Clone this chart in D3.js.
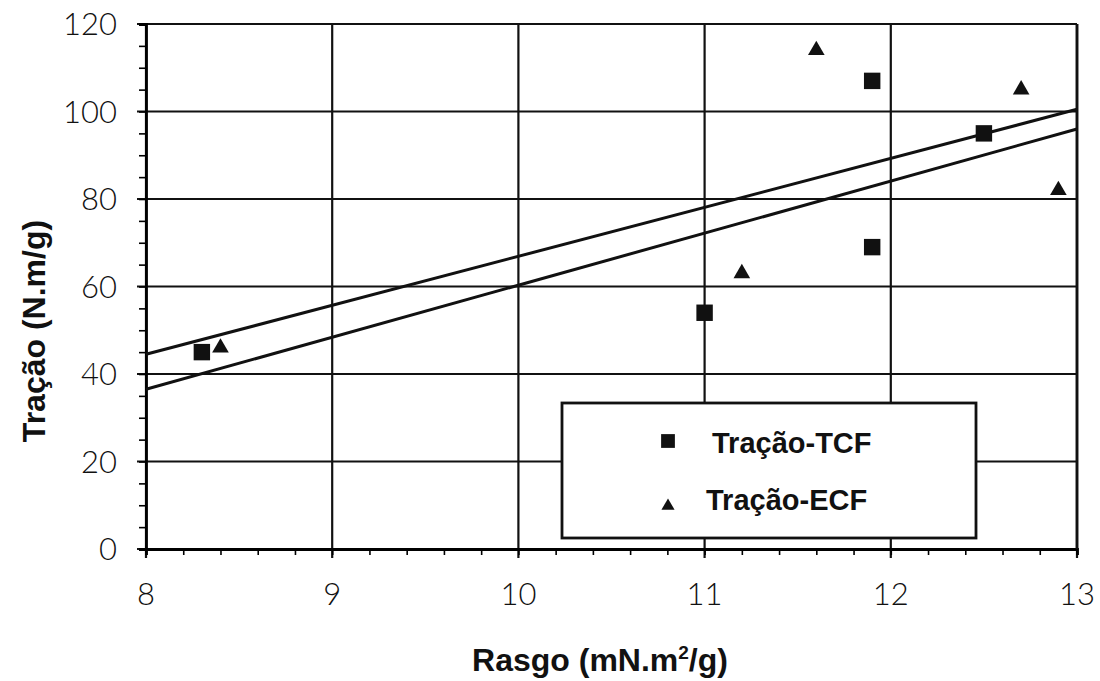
<!DOCTYPE html>
<html>
<head>
<meta charset="utf-8">
<style>
    body { margin: 0; background: #fff; }
    .tick-label { font-family: Lato, "DejaVu Sans", sans-serif; font-weight: 300; font-size: 31px; fill: #111; }
    .title { font-family: "Liberation Sans", Arial, sans-serif; font-weight: bold; font-size: 32px; fill: #111; }
    .legend-text { font-family: "Liberation Sans", Arial, sans-serif; font-weight: bold; font-size: 29px; fill: #111; }
</style>
<script src="https://cdn.jsdelivr.net/npm/d3@7"></script>
</head>
<body>
<script>
// x ticks and y ticks
var xTicks = [8, 9, 10, 11, 12, 13];
var yTicks = [0, 20, 40, 60, 80, 100, 120];

// Tração-TCF (squares)
var tcfX = [8.3, 11.0, 11.9, 11.9, 12.5];
var tcfY = [45, 54, 107, 69, 95];

// Tração-ECF (triangles)
var ecfX = [8.4, 11.2, 11.6, 12.7, 12.9];
var ecfY = [46, 63, 114, 105, 82];

// the two straight fit lines, read at x = 8 and x = 13
var fitX = [8, 13];
var fitUpper = [44.5, 100.5];
var fitLower = [36.5, 96];

var width = 1100, height = 681;
var margin = {left: 146, right: 23, top: 24, bottom: 132};

var svg = d3.select("body").append("svg")
    .attr("width", width)
    .attr("height", height);

var x = d3.scaleLinear().domain([8, 13]).range([margin.left, width - margin.right]);
var y = d3.scaleLinear().domain([0, 120]).range([height - margin.bottom, margin.top]);

//gridlines
svg.append("g").selectAll("line.vg")
    .data(xTicks).enter().append("line")
    .attr("x1", function(d) { return x(d); })
    .attr("x2", function(d) { return x(d); })
    .attr("y1", y(0) + 9)
    .attr("y2", y(120))
    .attr("stroke", "#111").attr("stroke-width", 2.2);

svg.append("g").selectAll("line.hg")
    .data(yTicks).enter().append("line")
    .attr("x1", x(8) - 9)
    .attr("x2", x(13))
    .attr("y1", function(d) { return y(d); })
    .attr("y2", function(d) { return y(d); })
    .attr("stroke", "#111").attr("stroke-width", 2.2);

//minor ticks
var xAxis = d3.axisBottom(x).ticks(25).tickSize(6).tickFormat("");
svg.append("g")
    .attr("transform", "translate(0," + y(0) + ")")
    .call(xAxis)
    .call(function(g) {
        g.select(".domain").attr("stroke-width", 2.8);
        g.selectAll(".tick line").attr("stroke-width", 1.6);
    });

var yAxis = d3.axisLeft(y).ticks(24).tickSize(7).tickFormat("");
svg.append("g")
    .attr("transform", "translate(" + x(8) + ",0)")
    .call(yAxis)
    .call(function(g) {
        g.select(".domain").attr("stroke-width", 2.8);
        g.selectAll(".tick line").attr("stroke-width", 1.6);
    });

// right border
svg.append("line")
    .attr("x1", x(13)).attr("x2", x(13))
    .attr("y1", y(0)).attr("y2", y(120))
    .attr("stroke", "#111").attr("stroke-width", 2.8);

//tick labels
svg.append("g").selectAll("text")
    .data(xTicks).enter().append("text")
    .attr("class", "tick-label")
    .attr("x", function(d) { return x(d); })
    .attr("y", y(0) + 56)
    .attr("text-anchor", "middle")
    .text(function(d) { return d; });

svg.append("g").selectAll("text")
    .data(yTicks).enter().append("text")
    .attr("class", "tick-label")
    .attr("x", x(8) - 29)
    .attr("y", function(d) { return y(d); })
    .attr("dy", "0.36em")
    .attr("text-anchor", "end")
    .text(function(d) { return d; });

//fit lines
var line = d3.line()
    .x(function(d) { return x(d[0]); })
    .y(function(d) { return y(d[1]); });

[fitUpper, fitLower].forEach(function(vals) {
    svg.append("path")
        .datum(fitX.map(function(v, i) { return [v, vals[i]]; }))
        .attr("d", line)
        .attr("fill", "none")
        .attr("stroke", "#111")
        .attr("stroke-width", 3);
});

//points
var square = d3.symbol().type(d3.symbolSquare).size(270);
var triangle = d3.symbol().type(d3.symbolTriangle).size(120);

svg.append("g").selectAll("path")
    .data(tcfX.map(function(v, i) { return [v, tcfY[i]]; }))
    .enter().append("path")
    .attr("d", square)
    .attr("transform", function(d) { return "translate(" + x(d[0]) + "," + y(d[1]) + ")"; })
    .attr("fill", "#111");

svg.append("g").selectAll("path")
    .data(ecfX.map(function(v, i) { return [v, ecfY[i]]; }))
    .enter().append("path")
    .attr("d", triangle)
    .attr("transform", function(d) { return "translate(" + x(d[0]) + "," + y(d[1]) + ")"; })
    .attr("fill", "#111");

//legend
var legend = svg.append("g");
legend.append("rect")
    .attr("x", 562).attr("y", 403)
    .attr("width", 414).attr("height", 135)
    .attr("fill", "#fff")
    .attr("stroke", "#111").attr("stroke-width", 2.8);

legend.append("path")
    .attr("d", d3.symbol().type(d3.symbolSquare).size(190))
    .attr("transform", "translate(668,441)")
    .attr("fill", "#111");
legend.append("text")
    .attr("class", "legend-text")
    .attr("x", 712).attr("y", 453)
    .text("Tração-TCF");

legend.append("path")
    .attr("d", d3.symbol().type(d3.symbolTriangle).size(75))
    .attr("transform", "translate(668,506)")
    .attr("fill", "#111");
legend.append("text")
    .attr("class", "legend-text")
    .attr("x", 706).attr("y", 510)
    .text("Tração-ECF");

//axis titles
var xt = svg.append("text")
    .attr("class", "title")
    .attr("x", 600)
    .attr("y", 671)
    .attr("text-anchor", "middle");
xt.append("tspan").text("Rasgo (mN.m");
xt.append("tspan").attr("dy", -12).style("font-size", "19px").text("2");
xt.append("tspan").attr("dy", 12).text("/g)");

svg.append("text")
    .attr("class", "title")
    .attr("transform", "translate(45," + 331 + ") rotate(-90)")
    .attr("text-anchor", "middle")
    .text("Tração (N.m/g)");
</script>
</body>
</html>
